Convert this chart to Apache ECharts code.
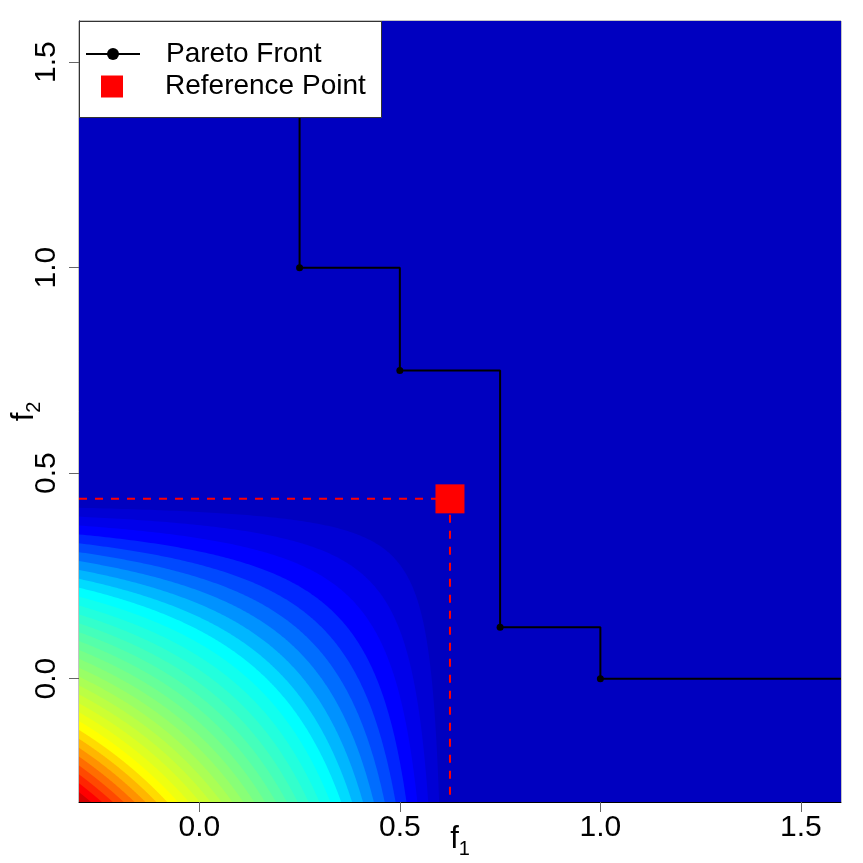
<!DOCTYPE html>
<html>
<head>
<meta charset="utf-8">
<script src="https://cdn.jsdelivr.net/npm/echarts@6/dist/echarts.min.js"></script>
<style>
  html, body { margin: 0; padding: 0; background: #ffffff; }
  #chart { width: 863px; height: 863px; }
</style>
</head>
<body>
<div id="chart"></div>
<script>
// ---- data ----
const xRange = [-0.3, 1.6];
const yRange = [-0.3, 1.6];
const xTicks = [0, 0.5, 1.0, 1.5];
const yTicks = [0, 0.5, 1.0, 1.5];

const paretoX = [0.25, 0.5, 0.75, 1.0];
const paretoY = [1.0, 0.75, 0.125, 0.0];

const refPoint = [0.625, 0.4375];

// lower bound of each filled-contour band
const levels = [0.00, 0.02, 0.04, 0.06, 0.08, 0.10, 0.12, 0.14, 0.16, 0.18,
                0.20, 0.22, 0.24, 0.26, 0.28, 0.30, 0.32, 0.34, 0.36, 0.38,
                0.40, 0.42, 0.44, 0.46, 0.48, 0.50, 0.52, 0.54, 0.56, 0.58,
                0.60, 0.62, 0.64, 0.66, 0.68];
const bandColors = ['#0000C0', '#0000D5', '#0000EA', '#0000FF', '#0024FF', '#0049FF', '#006DFF',
                    '#0092FF', '#00B6FF', '#00DBFF', '#00FFFF', '#11FFEE', '#22FFDD', '#33FFCC',
                    '#44FFBB', '#55FFAA', '#66FF99', '#77FF88', '#88FF77', '#99FF66', '#AAFF55',
                    '#BBFF44', '#CCFF33', '#DDFF22', '#EEFF11', '#FFFF00', '#FFDB00', '#FFB600',
                    '#FF9200', '#FF6D00', '#FF4900', '#FF2400', '#FF0000', '#D50000', '#AA0000'];

// field: area dominated by (x, y) up to the reference point, i.e. (r1 - x) * (r2 - y)
// the band region "field >= c" is bounded by the curve (r1 - x)(r2 - y) = c
function bandPolygon(c) {
  const xMin = xRange[0], xMax = xRange[1], yMin = yRange[0], yMax = yRange[1];
  if (c <= 0) return [[xMin, yMin], [xMin, yMax], [xMax, yMax], [xMax, yMin]];
  const U = refPoint[0] - xMin, V = refPoint[1] - yMin;
  if (c >= U * V) return null;
  const pts = [[xMin, yMin]];
  const uEnd = c / V, n = 200;
  for (let i = 0; i <= n; i++) {
    const u = U * Math.pow(uEnd / U, i / n);
    pts.push([refPoint[0] - u, refPoint[1] - c / u]);
  }
  return pts;
}

const FONT = "'Liberation Sans', Arial, Helvetica, sans-serif";

const paretoData = [{ value: [paretoX[0], yRange[1]], symbol: 'none' }];
for (let i = 0; i < paretoX.length; i++) paretoData.push([paretoX[i], paretoY[i]]);
paretoData.push({ value: [xRange[1], paretoY[paretoY.length - 1]], symbol: 'none' });

const chart = echarts.init(document.getElementById('chart'), null, { renderer: 'canvas' });

const axisNameRich = {
  a: { fontFamily: FONT, fontSize: 31, lineHeight: 31, color: '#000', verticalAlign: 'top' },
  b: { fontFamily: FONT, fontSize: 20, lineHeight: 20, color: '#000', verticalAlign: 'top', padding: [15, 0, 0, 0] }
};

chart.setOption({
  animation: false,
  backgroundColor: '#ffffff',
  grid: { left: 79, right: 22, top: 21, bottom: 61, show: true, borderColor: '#888', borderWidth: 1,
          containLabel: false, outerBoundsMode: 'none' },
  xAxis: {
    type: 'value', min: xRange[0], max: xRange[1],
    name: '{a|f}{b|1}', nameLocation: 'middle', nameGap: 22, nameMoveOverlap: false,
    nameTextStyle: { rich: axisNameRich },
    axisLine: { show: true, onZero: false, lineStyle: { color: '#000', width: 1 } },
    axisTick: { show: true, customValues: xTicks, length: 10, lineStyle: { color: '#666', width: 1 } },
    axisLabel: { show: true, customValues: xTicks, margin: 11, fontFamily: FONT, fontSize: 30, color: '#000',
                 formatter: v => v.toFixed(1) },
    splitLine: { show: false }
  },
  yAxis: {
    type: 'value', min: yRange[0], max: yRange[1],
    name: '{a|f}{b|2}', nameLocation: 'middle', nameGap: 39, nameRotate: 90, nameMoveOverlap: false,
    nameTextStyle: { rich: axisNameRich },
    axisLine: { show: true, onZero: false, lineStyle: { color: '#000', width: 1 } },
    axisTick: { show: true, customValues: yTicks, length: 10, lineStyle: { color: '#666', width: 1 } },
    axisLabel: { show: true, customValues: yTicks, margin: 17, rotate: 90, fontFamily: FONT, fontSize: 30, color: '#000',
                 formatter: v => v.toFixed(1) },
    splitLine: { show: false }
  },
  legend: [
    {
      data: ['Pareto Front'], orient: 'vertical', left: 85, top: 40, padding: 0, z: 10,
      itemWidth: 54, itemHeight: 15, selectedMode: false,
      textStyle: { fontFamily: FONT, fontSize: 28, color: '#000', padding: [0, 0, 0, 21] }
    },
    {
      data: ['Reference Point'], orient: 'vertical', left: 101, top: 72.5, padding: 0, z: 10,
      itemWidth: 22, itemHeight: 22, selectedMode: false,
      textStyle: { fontFamily: FONT, fontSize: 28, color: '#000', padding: [0, 0, 0, 37] }
    }
  ],
  graphic: [{
    type: 'rect', z: 5, silent: true,
    shape: { x: 79.5, y: 21.5, width: 302, height: 96 },
    style: { fill: '#ffffff', stroke: '#333', lineWidth: 1 }
  }],
  series: [
    {
      name: 'contour', type: 'custom', coordinateSystem: 'cartesian2d', silent: true, z: 1,
      data: levels.map(c => [xRange[0], yRange[0], c]),
      encode: { x: 0, y: 1 },
      renderItem: function (params, api) {
        const k = params.dataIndex;
        const pts = bandPolygon(levels[k]);
        if (!pts) return null;
        return {
          type: 'polygon',
          shape: { points: pts.map(p => api.coord(p)) },
          style: { fill: bandColors[k], stroke: null }
        };
      }
    },
    {
      name: 'refH', type: 'line', z: 2, silent: true, symbol: 'none',
      data: [[xRange[0], refPoint[1]], [refPoint[0], refPoint[1]]],
      lineStyle: { color: '#FF0000', width: 2, type: [8, 8] }
    },
    {
      name: 'refV', type: 'line', z: 2, silent: true, symbol: 'none',
      data: [[refPoint[0], refPoint[1]], [refPoint[0], yRange[0]]],
      lineStyle: { color: '#FF0000', width: 2, type: [8, 8] }
    },
    {
      name: 'Pareto Front', type: 'line', z: 3, step: 'end',
      symbol: 'circle', symbolSize: 7, showSymbol: true,
      itemStyle: { color: '#000' },
      lineStyle: { color: '#000', width: 2 },
      data: paretoData
    },
    {
      name: 'Reference Point', type: 'scatter', z: 4,
      symbol: 'rect', symbolSize: 29,
      itemStyle: { color: '#FF0000', opacity: 1 },
      data: [refPoint]
    }
  ]
});
</script>
</body>
</html>
